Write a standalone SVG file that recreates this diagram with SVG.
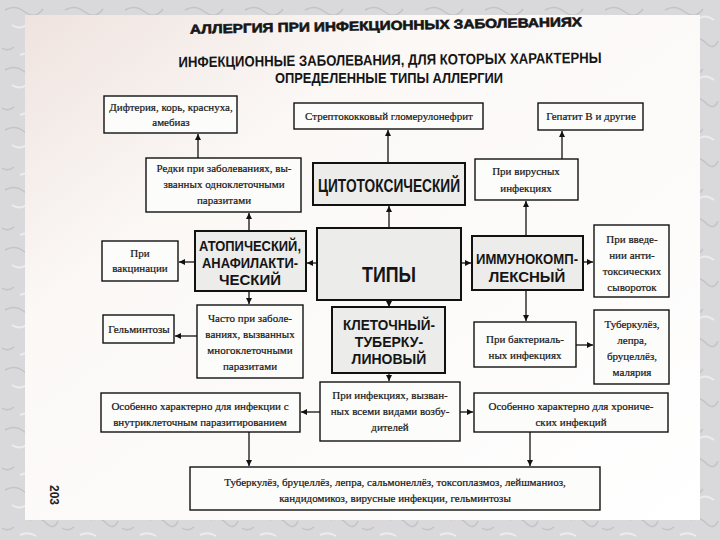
<svg xmlns="http://www.w3.org/2000/svg" width="720" height="540" viewBox="0 0 720 540">
<defs>
<style>
.bx{fill:#fcfcfa;stroke:#111;stroke-width:1.4}
.bb{fill:#ececea;stroke:#111;stroke-width:2}
.t{font-family:"Liberation Serif","Times New Roman",serif;font-size:11px;fill:#151515;stroke:#151515;stroke-width:0.2;text-anchor:middle}
.h{font-family:"Liberation Sans",Arial,sans-serif;font-weight:bold;fill:#151515;text-anchor:middle}
.c line{stroke:#111;stroke-width:1.3;fill:none}
</style>
<marker id="a" viewBox="0 0 10 10" refX="10" refY="5" markerWidth="6" markerHeight="6" markerUnits="userSpaceOnUse" orient="auto">
<path d="M0,0 L10,5 L0,10 z" fill="#111"/>
</marker>
<pattern id="bg" width="60" height="60" patternUnits="userSpaceOnUse">
<rect width="60" height="60" fill="#d9d9db"/>
<path d="M5,10 q10,-6 20,2 t18,-3 M30,40 q8,-5 16,3 t12,-2 M2,48 q6,4 12,-1" stroke="#c4c4c8" stroke-width="1.5" fill="none"/>
<path d="M12,25 q7,5 15,0 M40,18 q6,-4 14,2 M20,55 q8,-4 16,1" stroke="#ececee" stroke-width="2" fill="none"/>
</pattern>
<linearGradient id="pg" x1="0" y1="0" x2="1" y2="1">
<stop offset="0" stop-color="#efe3df"/>
<stop offset="0.3" stop-color="#fbf8f6"/>
<stop offset="1" stop-color="#ffffff"/>
</linearGradient>
</defs>
<rect width="720" height="540" fill="url(#bg)"/>
<rect x="25" y="15" width="675" height="505" fill="url(#pg)"/>

<text class="h" x="386" y="30" font-size="13" stroke="#151515" stroke-width="0.6" textLength="392" lengthAdjust="spacingAndGlyphs" transform="rotate(-1.1 386 26)">АЛЛЕРГИЯ ПРИ ИНФЕКЦИОННЫХ ЗАБОЛЕВАНИЯХ</text>
<text class="h" x="390" y="65" font-size="15" textLength="423" lengthAdjust="spacingAndGlyphs" transform="rotate(-0.6 390 60)">ИНФЕКЦИОННЫЕ ЗАБОЛЕВАНИЯ, ДЛЯ КОТОРЫХ ХАРАКТЕРНЫ</text>
<text class="h" x="389" y="83" font-size="15" textLength="228" lengthAdjust="spacingAndGlyphs">ОПРЕДЕЛЕННЫЕ ТИПЫ АЛЛЕРГИИ</text>

<g class="c" id="connectors">
<line x1="198" y1="158" x2="198" y2="134" marker-end="url(#a)"/>
<line x1="388" y1="163" x2="388" y2="130" marker-end="url(#a)"/>
<line x1="562" y1="159" x2="562" y2="131" marker-end="url(#a)"/>
<line x1="389" y1="228" x2="389" y2="206" marker-end="url(#a)"/>
<line x1="317" y1="263" x2="307" y2="263" marker-end="url(#a)"/>
<line x1="461" y1="263" x2="471" y2="263" marker-end="url(#a)"/>
<line x1="389" y1="300" x2="389" y2="307" marker-end="url(#a)"/>
<line x1="249" y1="231" x2="249" y2="213" marker-end="url(#a)"/>
<line x1="196" y1="262" x2="179" y2="262" marker-end="url(#a)"/>
<line x1="249" y1="291" x2="249" y2="304" marker-end="url(#a)"/>
<line x1="197" y1="336" x2="175" y2="336" marker-end="url(#a)"/>
<line x1="526" y1="235" x2="526" y2="201" marker-end="url(#a)"/>
<line x1="583" y1="262" x2="593" y2="262" marker-end="url(#a)"/>
<line x1="526" y1="290" x2="526" y2="321" marker-end="url(#a)"/>
<line x1="576" y1="345" x2="593" y2="345" marker-end="url(#a)"/>
<line x1="389" y1="373" x2="389" y2="381" marker-end="url(#a)"/>
<line x1="320" y1="412" x2="301" y2="412" marker-end="url(#a)"/>
<line x1="460" y1="412" x2="473" y2="412" marker-end="url(#a)"/>
<line x1="249" y1="432" x2="249" y2="466" marker-end="url(#a)"/>
<line x1="530" y1="432" x2="530" y2="466" marker-end="url(#a)"/>
</g>

<g id="n-difteria"><rect class="bx" x="104" y="96" width="133" height="37"/>
<text class="t" x="171" y="111">Дифтерия, корь, краснуха,</text><text class="t" x="171" y="126">амебиаз</text></g>

<g id="n-strepto"><rect class="bx" x="294" y="103" width="189" height="26"/>
<text class="t" x="389" y="120">Стрептококковый гломерулонефрит</text></g>

<g id="n-hepatit"><rect class="bx" x="538" y="103" width="105" height="27"/>
<text class="t" x="591" y="120">Гепатит В и другие</text></g>

<g id="n-redki"><rect class="bx" x="146" y="158" width="155" height="54"/>
<text class="t" x="224" y="172">Редки при заболеваниях, вы-</text>
<text class="t" x="224" y="188">званных одноклеточными</text>
<text class="t" x="224" y="204">паразитами</text></g>

<g id="n-cito"><rect class="bb" x="313" y="163" width="152" height="42"/>
<text class="h" x="0" y="0" font-size="19" textLength="203" lengthAdjust="spacingAndGlyphs" transform="translate(389 192) scale(0.7 1)">ЦИТОТОКСИЧЕСКИЙ</text></g>

<g id="n-virus"><rect class="bx" x="475" y="159" width="103" height="41"/>
<text class="t" x="526" y="175">При вирусных</text><text class="t" x="526" y="192">инфекциях</text></g>

<g id="n-vakc"><rect class="bx" x="102" y="241" width="76" height="40"/>
<text class="t" x="140" y="257">При</text><text class="t" x="140" y="272">вакцинации</text></g>

<g id="n-atop"><rect class="bb" x="195" y="231" width="111" height="60"/>
<text class="h" x="250" y="251" font-size="15" textLength="102" lengthAdjust="spacingAndGlyphs">АТОПИЧЕСКИЙ,</text>
<text class="h" x="250" y="268" font-size="15" textLength="96" lengthAdjust="spacingAndGlyphs">АНАФИЛАКТИ-</text>
<text class="h" x="250" y="285" font-size="15">ЧЕСКИЙ</text></g>

<g id="n-tipy"><rect class="bb" x="317" y="228" width="144" height="72" fill="#e6e6e4"/>
<text class="h" x="389" y="282" font-size="22" textLength="54" lengthAdjust="spacingAndGlyphs">ТИПЫ</text></g>

<g id="n-immuno"><rect class="bb" x="472" y="236" width="111" height="54"/>
<text class="h" x="527" y="264" font-size="15" textLength="102" lengthAdjust="spacingAndGlyphs">ИММУНОКОМП-</text>
<text class="h" x="527" y="282" font-size="15">ЛЕКСНЫЙ</text></g>

<g id="n-vved"><rect class="bx" x="594" y="225" width="75" height="72"/>
<text class="t" x="632" y="243">При введе-</text><text class="t" x="632" y="259">нии анти-</text>
<text class="t" x="632" y="275">токсических</text><text class="t" x="632" y="291">сывороток</text></g>

<g id="n-gelm"><rect class="bx" x="103" y="315" width="71" height="28"/>
<text class="t" x="139" y="333">Гельминтозы</text></g>

<g id="n-chasto"><rect class="bx" x="197" y="305" width="106" height="73"/>
<text class="t" x="250" y="322">Часто при заболе-</text><text class="t" x="250" y="338">ваниях, вызванных</text>
<text class="t" x="250" y="354">многоклеточными</text><text class="t" x="250" y="370">паразитами</text></g>

<g id="n-kletoch"><rect class="bb" x="332" y="307" width="113" height="66"/>
<text class="h" x="389" y="330" font-size="14" textLength="92" lengthAdjust="spacingAndGlyphs">КЛЕТОЧНЫЙ-</text>
<text class="h" x="389" y="347" font-size="14">ТУБЕРКУ-</text>
<text class="h" x="389" y="364" font-size="14">ЛИНОВЫЙ</text></g>

<g id="n-bakt"><rect class="bx" x="474" y="322" width="102" height="45"/>
<text class="t" x="525" y="343">При бактериаль-</text><text class="t" x="525" y="359">ных инфекциях</text></g>

<g id="n-tuberk"><rect class="bx" x="594" y="310" width="75" height="74"/>
<text class="t" x="632" y="328">Туберкулёз,</text><text class="t" x="632" y="344">лепра,</text>
<text class="t" x="632" y="360">бруцеллёз,</text><text class="t" x="632" y="376">малярия</text></g>

<g id="n-osob1"><rect class="bx" x="101" y="393" width="199" height="39"/>
<text class="t" x="200" y="410">Особенно характерно для инфекции с</text>
<text class="t" x="200" y="426">внутриклеточным паразитированием</text></g>

<g id="n-vsemi"><rect class="bx" x="320" y="382" width="140" height="59"/>
<text class="t" x="390" y="399">При инфекциях, вызван-</text>
<text class="t" x="390" y="415">ных всеми видами возбу-</text>
<text class="t" x="390" y="431">дителей</text></g>

<g id="n-osob2"><rect class="bx" x="474" y="393" width="194" height="39"/>
<text class="t" x="571" y="410">Особенно характерно для хрониче-</text>
<text class="t" x="571" y="426">ских инфекций</text></g>

<g id="n-bottom"><rect class="bx" x="190" y="467" width="410" height="43"/>
<text class="t" x="395" y="486">Туберкулёз, бруцеллёз, лепра, сальмонеллёз, токсоплазмоз, лейшманиоз,</text>
<text class="t" x="395" y="502">кандидомикоз, вирусные инфекции, гельминтозы</text></g>

<text x="50" y="495" font-family="Liberation Sans, Arial, sans-serif" font-weight="bold" font-size="12" fill="#222" text-anchor="middle" transform="rotate(90 50 495)">203</text>
</svg>
